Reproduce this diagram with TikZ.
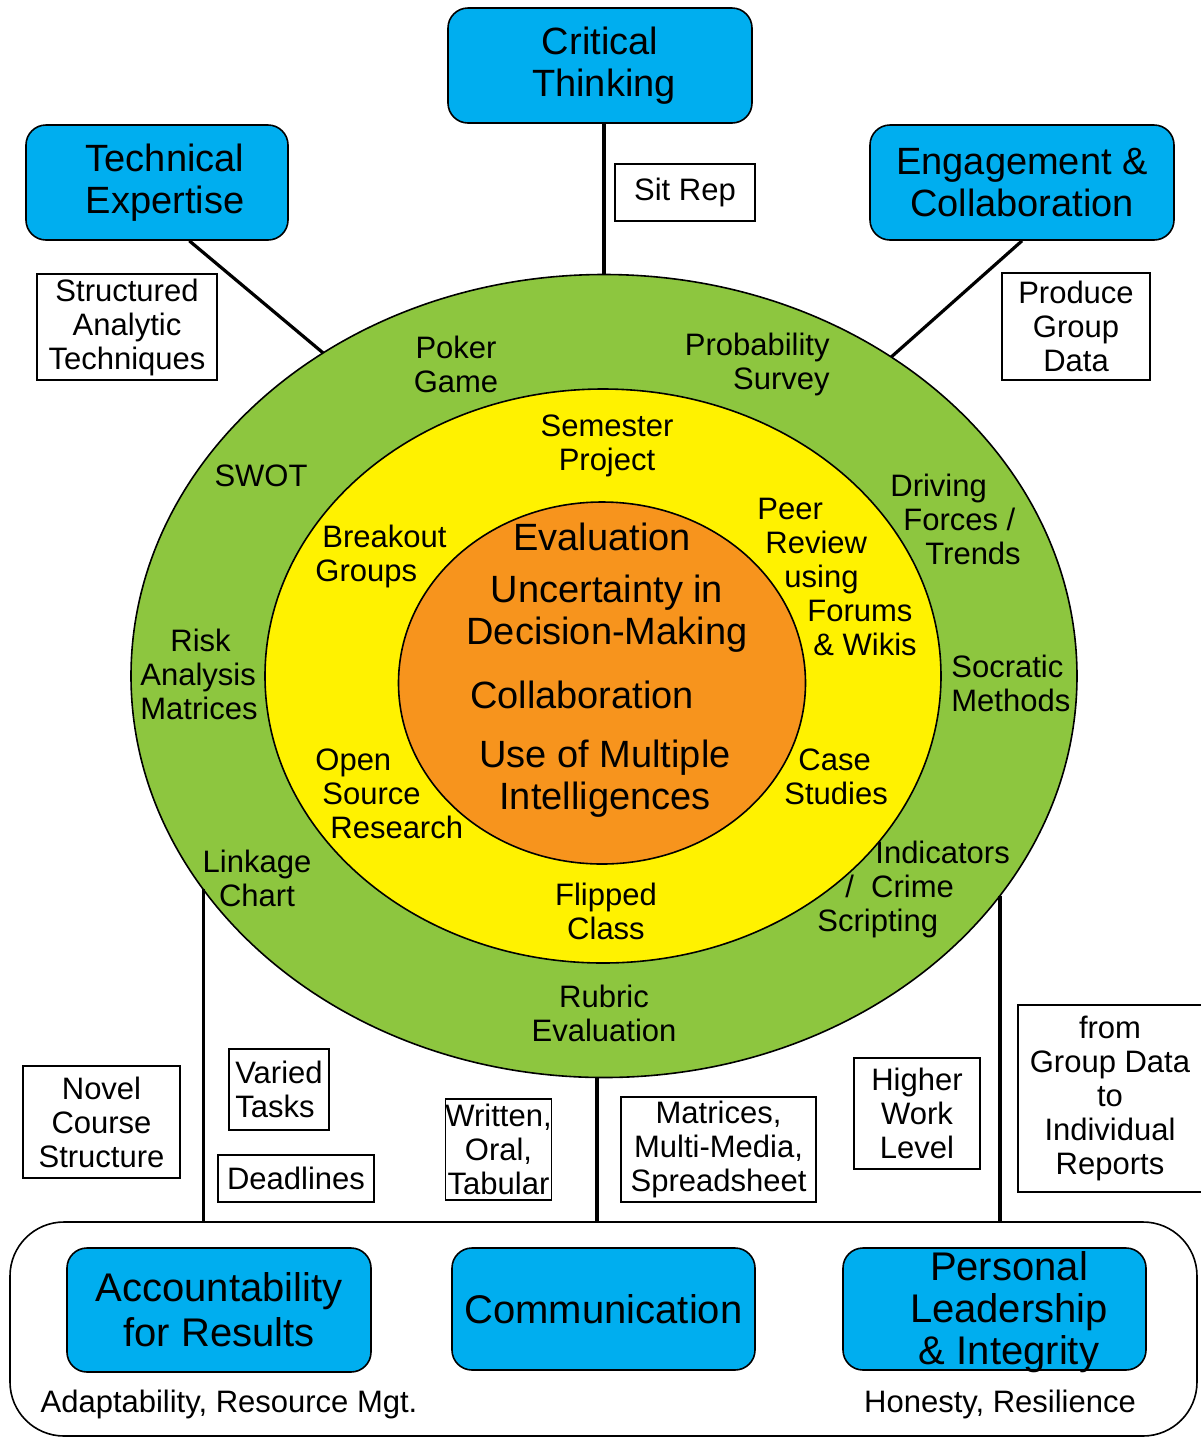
\documentclass[tikz,border=0pt]{standalone}
\usepackage{fontspec}
\setmainfont{Liberation Sans}
\usetikzlibrary{shapes.geometric}
\definecolor{cyanbox}{HTML}{00AEEF}
\definecolor{ringgreen}{HTML}{8DC63F}
\definecolor{ringyellow}{HTML}{FFF200}
\definecolor{coreorange}{HTML}{F7941D}
\begin{document}
\begin{tikzpicture}[x=0.5pt,y=-0.5pt,
  bluebox/.style={draw=black, line width=0.8pt, fill=cyanbox, rounded corners=10pt, inner sep=0pt, align=center, font=\fontsize{19}{21}\selectfont},
  smallbox/.style={draw=black, line width=0.8pt, fill=white, inner sep=0pt, align=center, font=\fontsize{15.5}{17}\selectfont},
  ring/.style={inner sep=0pt, font=\fontsize{15.5}{17}\selectfont},
  core/.style={inner sep=0pt, align=center, font=\fontsize{19}{21}\selectfont},
  conn/.style={line width=1.6pt, draw=black},
  disc/.style={ellipse, draw=black, line width=0.8pt, inner sep=0pt, outer sep=0pt},
  frame/.style={draw=black, line width=0.8pt, rounded corners=27pt, inner sep=0pt, outer sep=0pt},
]
\useasboundingbox (0,0) rectangle (1201,1437);

% rings
\node[disc, fill=ringgreen, minimum width=473pt, minimum height=401.5pt] (green) at (604,676) {};
\node[disc, fill=ringyellow, minimum width=338pt, minimum height=287pt] (yellow) at (603,676) {};
\node[disc, fill=coreorange, minimum width=203.5pt, minimum height=181pt] (orange) at (602,683) {};

% bottom frame
\node[frame, minimum width=593.5pt, minimum height=107pt] (frame) at (603.5,1329) {};

% top boxes
\node[bluebox, minimum width=152pt, minimum height=57.5pt] (ct) at (600,65.5) {Critical\\\hspace*{4pt}Thinking};
\node[bluebox, minimum width=131pt, minimum height=57.5pt] (te) at (157,182.5) {\hspace*{8pt}Technical\\\hspace*{8pt}Expertise};
\node[bluebox, minimum width=152pt, minimum height=57.5pt] (ec) at (1022,182.5) {Engagement \&\\Collaboration};

% bottom boxes
\node[bluebox, font=\fontsize{20}{22.5}\selectfont, minimum width=152pt, minimum height=62pt] (acc) at (219,1310) {Accountability\\for Results};
\node[bluebox, font=\fontsize{20}{22.5}\selectfont, minimum width=151.5pt, minimum height=61pt] (com) at (603.5,1309) {Communication};
\node[bluebox, minimum width=151.5pt, minimum height=61pt] (pl) at (994.5,1309) {};
\node[core, font=\fontsize{20}{21}\selectfont] (pltext) at (1009,1312) {Personal\\Leadership\\\& Integrity};

% connectors
\draw[conn] (ct.south -| green.north) -- (green.north);
\draw[conn] (te.-61.7) -- (green.131.1);
\draw[conn] (ec.south) -- (green.48.4);
\draw[conn] (green.208.2) -- (green.208.2 |- frame.north);
\draw[conn] (green.269.6) -- (green.269.6 |- frame.north);
\draw[conn] (green.331.8) -- (green.331.8 |- frame.north);

% small boxes
\node[smallbox, minimum width=70pt, minimum height=28.5pt] (sitrep) at (685,192.5) {Sit Rep};
\node[smallbox, minimum width=90pt, minimum height=53pt] (sat) at (127,327) {Structured\\Analytic\\Techniques};
\node[smallbox, minimum width=74pt, minimum height=53.5pt] (pgd) at (1076,326.5) {Produce\\Group\\Data};
\node[smallbox, minimum width=78.5pt, minimum height=56pt] (ncs) at (101.5,1122) {Novel\\Course\\Structure};
\node[smallbox, align=left, minimum width=50pt, minimum height=40.5pt] (vt) at (279,1089.5) {Varied\\Tasks};
\node[smallbox, minimum width=78pt, minimum height=23.5pt] (dl) at (296,1178.5) {Deadlines};
\node[smallbox, minimum width=52.5pt, minimum height=50.5pt] (wot) at (498.5,1149.5) {Written,\\Oral,\\Tabular};
\node[smallbox, minimum width=97.5pt, minimum height=52.5pt] (mms) at (718.5,1149.5) {Matrices,\\Multi-Media,\\Spreadsheet};
\node[smallbox, minimum width=63pt, minimum height=55.5pt] (hwl) at (917,1113.5) {Higher\\Work\\Level};
\node[smallbox, minimum width=92pt, minimum height=93.5pt] (fgd) at (1110,1098.5) {from\\Group Data\\to\\Individual\\Reports};

% green ring labels
\node[ring, align=center] (poker) at (456,364) {Poker\\Game};
\node[ring, align=right, anchor=east] (prob) at (830,364) {Probability\\Survey};
\node[ring] (swot) at (261,476) {SWOT};
\node[ring, align=left, anchor=west] (drive) at (890,519) {Driving\\\hspace*{6.5pt}Forces /\\\hspace*{17.5pt}Trends};
\node[ring, align=left, anchor=west] (risk) at (140,674) {\hspace*{15pt}Risk\\Analysis\\Matrices};
\node[ring, align=left, anchor=west] (socr) at (951,683) {Socratic\\Methods};
\node[ring, align=center] (link) at (257,878) {Linkage\\Chart};
\node[ring, align=left, anchor=west] (ind) at (817,889) {\hspace*{29pt}Indicators\\\hspace*{14pt}/\ \ Crime\\Scripting};
\node[ring, align=center] (rubric) at (604,1013) {Rubric\\Evaluation};

% yellow ring labels
\node[ring, align=center] (sem) at (607,446) {Semester\\Project};
\node[ring, align=left, anchor=west] (brk) at (315,556) {\hspace*{3.5pt}Breakout\\Groups};
\node[ring, align=left, anchor=west] (peer) at (757,576.5) {Peer\\\hspace*{4pt}Review\\\hspace*{13.5pt}using\\\hspace*{25pt}Forums\\\hspace*{28pt}\& Wikis};
\node[ring, align=left, anchor=west] (osr) at (315,794) {Open\\\hspace*{3.5pt}Source\\\hspace*{7.5pt}Research};
\node[ring, align=left, anchor=west] (case) at (784,777) {\hspace*{7pt}Case\\Studies};
\node[ring, align=center] (flip) at (606,911) {Flipped\\Class};

% core labels
\node[core] (eval) at (602,537) {Evaluation};
\node[core] (unc) at (607,614) {Uncertainty in\\Decision-Making};
\node[core] (collab) at (582,695) {Collaboration};
\node[core] (mult) at (605,779) {Use of Multiple\\Intelligences};

% bottom notes
\node[ring] (adapt) at (229,1404) {Adaptability, Resource Mgt.};
\node[ring] (hon) at (1000,1404) {Honesty, Resilience};
\end{tikzpicture}
\end{document}
